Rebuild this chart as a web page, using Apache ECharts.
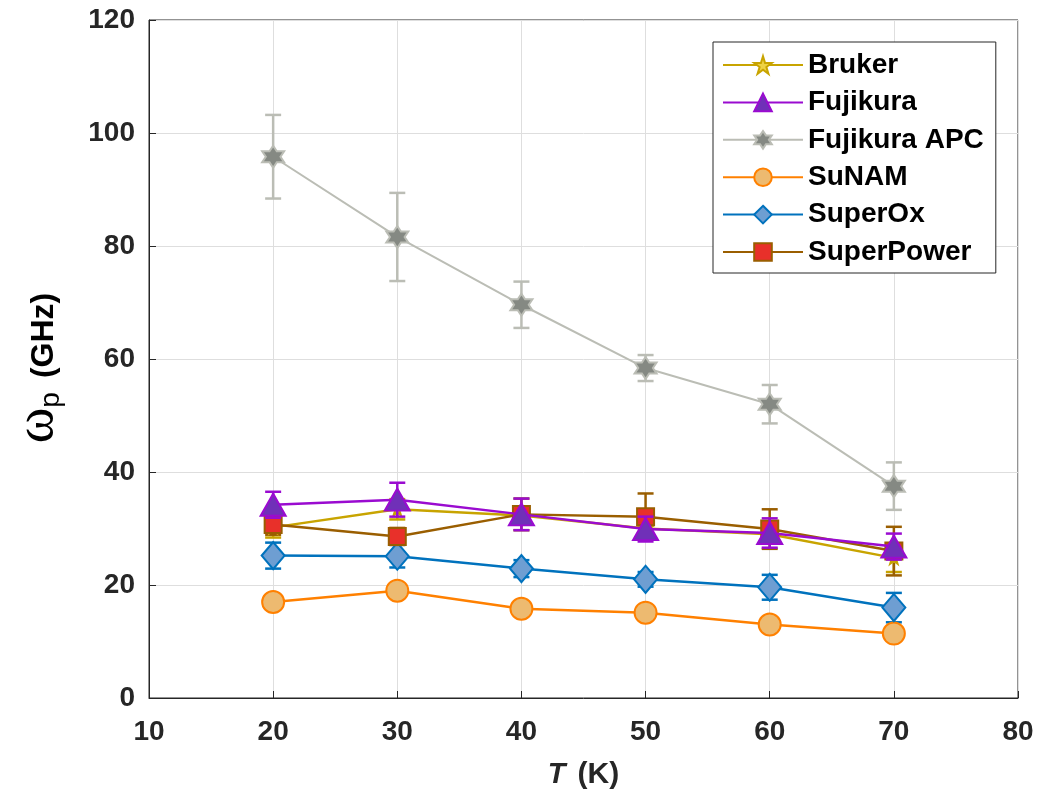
<!DOCTYPE html>
<html>
<head>
<meta charset="utf-8">
<script src="https://cdn.jsdelivr.net/npm/echarts@6/dist/echarts.min.js"></script>
<style>html,body{margin:0;padding:0;background:#fff}#c{width:1063px;height:798px}</style>
</head>
<body>
<div id="c"></div>
<script>
// ---- data ----
var T = [20, 30, 40, 50, 60, 70];
var seriesNames = ['Bruker', 'Fujikura', 'Fujikura APC', 'SuNAM', 'SuperOx', 'SuperPower'];
var bruker = [30.2, 33.4, 32.3, 30.0, 29.0, 24.8];
var brukerErr = [1.8, 1.8, 1.5, 1.5, 1.5, 2.5];
var fujikura = [34.2, 35.1, 32.5, 29.9, 29.2, 26.8];
var fujikuraErr = [2.3, 3.0, 2.8, 2.2, 2.6, 2.3];
var fujikuraAPC = [95.8, 81.6, 69.6, 58.4, 52.0, 37.5];
var fujikuraAPCErr = [7.4, 7.8, 4.1, 2.3, 3.4, 4.2];
var sunam = [17.0, 19.0, 15.8, 15.1, 13.0, 11.4];
var sunamErr = [0.8, 1.0, 0.9, 0.9, 0.9, 0.9];
var superox = [25.2, 25.1, 22.9, 21.0, 19.6, 16.0];
var superoxErr = [2.3, 2.0, 1.5, 1.3, 2.2, 2.6];
var superpower = [30.7, 28.6, 32.5, 32.1, 29.9, 26.0];
var superpowerErr = [1.8, 1.5, 2.8, 4.1, 3.5, 4.3];
var xTicks = [10, 20, 30, 40, 50, 60, 70, 80];
var yTicks = [0, 20, 40, 60, 80, 100, 120];

// ---- styles ----
var hexagram = 'path://M0,-10 L2.887,-5 L8.66,-5 L5.774,0 L8.66,5 L2.887,5 L0,10 L-2.887,5 L-8.66,5 L-5.774,0 L-8.66,-5 L-2.887,-5 Z';
var pentagram = 'path://M0,-10 L2.245,-3.09 L9.511,-3.09 L3.633,1.18 L5.878,8.09 L0,3.82 L-5.878,8.09 L-3.633,1.18 L-9.511,-3.09 L-2.245,-3.09 Z';
var styles = [
  {vals: bruker, err: brukerErr, line: '#C8A400', face: '#EED245', symbol: pentagram, size: 12, lw: 2.5, z: 3},
  {vals: fujikura, err: fujikuraErr, line: '#9A0BD0', face: '#7030B8', symbol: 'triangle', size: [25, 22], lw: 2.5, z: 6},
  {vals: fujikuraAPC, err: fujikuraAPCErr, line: '#BBBDB5', face: '#858983', symbol: hexagram, size: 22, lw: 2, z: 2},
  {vals: sunam, err: sunamErr, line: '#FF8000', face: '#EDBA70', symbol: 'circle', size: 22, lw: 2.5, z: 2},
  {vals: superox, err: superoxErr, line: '#0072BD', face: '#6E9ED2', symbol: 'diamond', size: [23, 27], lw: 2.5, z: 2},
  {vals: superpower, err: superpowerErr, line: '#9A5E00', face: '#E8302A', symbol: 'rect', size: 17, lw: 2.5, z: 4}
];

var series = [];
styles.forEach(function (s, i) {
  series.push({
    name: seriesNames[i],
    type: 'line',
    data: T.map(function (t, k) { return [t, s.vals[k]]; }),
    symbol: s.symbol,
    symbolSize: s.size,
    showAllSymbol: true,
    z: s.z + 1,
    lineStyle: {color: s.line, width: s.lw},
    itemStyle: {color: s.face, borderColor: s.line, borderWidth: 2},
    emphasis: {disabled: true}
  });
});
styles.forEach(function (s, i) {
  series.push({
    name: seriesNames[i],
    type: 'custom',
    z: s.z,
    data: T.map(function (t, k) { return [t, s.vals[k] - s.err[k], s.vals[k] + s.err[k]]; }),
    encode: {x: 0, y: [1, 2]},
    renderItem: function (params, api) {
      var lo = api.coord([api.value(0), api.value(1)]);
      var hi = api.coord([api.value(0), api.value(2)]);
      var hw = 8;
      var st = {stroke: s.line, lineWidth: 2.5};
      return {
        type: 'group',
        children: [
          {type: 'line', shape: {x1: lo[0], y1: lo[1], x2: hi[0], y2: hi[1]}, style: st},
          {type: 'line', shape: {x1: lo[0] - hw, y1: lo[1], x2: lo[0] + hw, y2: lo[1]}, style: st},
          {type: 'line', shape: {x1: hi[0] - hw, y1: hi[1], x2: hi[0] + hw, y2: hi[1]}, style: st}
        ]
      };
    },
    emphasis: {disabled: true}
  });
});

var FONT = 'Liberation Sans, Arial, Helvetica, sans-serif';
var axisFont = {fontFamily: FONT, fontWeight: 'bold', fontSize: 28, color: '#262626'};

var chart = echarts.init(document.getElementById('c'), null, {renderer: 'canvas'});
chart.setOption({
  animation: false,
  backgroundColor: '#ffffff',
  grid: {left: 149, right: 45, top: 20, bottom: 100, show: true, borderColor: '#262626', borderWidth: 1, backgroundColor: 'transparent'},
  legend: {
    data: seriesNames,
    left: 713, top: 42, orient: 'vertical',
    backgroundColor: '#ffffff',
    borderColor: '#262626', borderWidth: 1,
    padding: [9, 12, 7, 9],
    itemWidth: 80, itemHeight: 22, itemGap: 9.4,
    textStyle: {fontFamily: FONT, fontWeight: 'bold', fontSize: 28, color: '#000', lineHeight: 28},
    selectedMode: false
  },
  xAxis: {
    type: 'value', min: xTicks[0], max: xTicks[xTicks.length - 1], interval: 10,
    axisLine: {lineStyle: {color: '#262626', width: 1}},
    axisTick: {inside: true, length: 7, lineStyle: {color: '#262626'}},
    axisLabel: Object.assign({margin: 20}, axisFont),
    splitLine: {show: true, lineStyle: {color: '#dedede', width: 1}},
    name: '{i|T}{n|(K)}',
    nameLocation: 'middle', nameGap: 62,
    nameTextStyle: {rich: {
      i: {fontFamily: FONT, fontWeight: 'bold', fontStyle: 'italic', fontSize: 29, color: '#262626', padding: [0, 12, 0, 0]},
      n: {fontFamily: FONT, fontWeight: 'bold', fontSize: 30, color: '#262626'}
    }}
  },
  yAxis: {
    type: 'value', min: yTicks[0], max: yTicks[yTicks.length - 1], interval: 20,
    axisLine: {show: true, lineStyle: {color: '#262626', width: 1}},
    axisTick: {show: true, inside: true, length: 7, lineStyle: {color: '#262626'}},
    axisLabel: Object.assign({margin: 14}, axisFont),
    splitLine: {show: true, lineStyle: {color: '#dedede', width: 1}},
    name: '{w|ω}{p|p}{n|(GHz)}',
    nameLocation: 'middle', nameGap: 84, nameRotate: 90,
    nameTextStyle: {rich: {
      w: {fontFamily: 'Liberation Serif, DejaVu Serif, serif', fontSize: 54, color: '#000', lineHeight: 52, verticalAlign: 'bottom'},
      p: {fontFamily: FONT, fontSize: 28, color: '#000', lineHeight: 52, verticalAlign: 'bottom', padding: [16, 14, 0, 0]},
      n: {fontFamily: FONT, fontWeight: 'bold', fontSize: 32, color: '#000', lineHeight: 52, verticalAlign: 'bottom', padding: [0, 18, 5, 0]}
    }}
  },
  series: series
});
</script>
</body>
</html>
